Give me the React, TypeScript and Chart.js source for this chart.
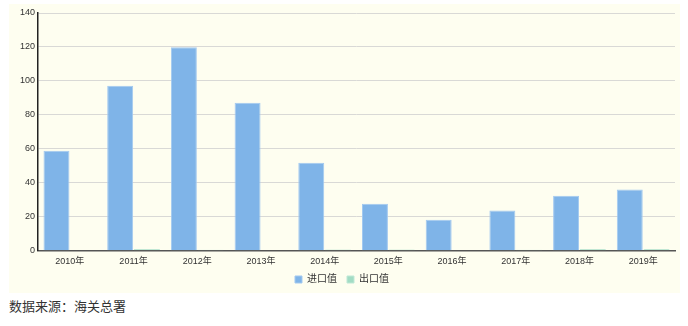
import React, { useEffect, useRef } from "react";
import { Chart, registerables } from "chart.js";

Chart.register(...registerables);

const categories = ["2010年", "2011年", "2012年", "2013年", "2014年", "2015年", "2016年", "2017年", "2018年", "2019年"];
const importValues = [58.8, 97.2, 119.8, 87.2, 51.8, 27.7, 18.2, 23.7, 32.4, 36.0];
const exportValues = [0.3, 1.0, 0.6, 0.2, 0.7, 0.7, 0.3, 0.6, 1.0, 1.0];
const seriesNames = ["进口值", "出口值"];
const yTicks = [0, 20, 40, 60, 80, 100, 120, 140];
const caption = "数据来源：海关总署";

const FONT = "'Liberation Sans', 'Noto Sans CJK SC', sans-serif";

export default function App() {
  const ref = useRef<HTMLCanvasElement | null>(null);

  useEffect(() => {
    if (!ref.current) return;
    const chart = new Chart(ref.current, {
      type: "bar",
      data: {
        labels: categories,
        datasets: [
          {
            label: seriesNames[0],
            data: importValues,
            backgroundColor: "#7fb4e8",
            borderColor: "#a3c9f0",
            borderWidth: 1,
            barPercentage: 0.97,
            categoryPercentage: 0.84,
          },
          {
            label: seriesNames[1],
            data: exportValues,
            backgroundColor: "#a2dcc4",
            borderColor: "#bfe8d6",
            borderWidth: 1,
            barPercentage: 0.97,
            categoryPercentage: 0.84,
          },
        ],
      },
      options: {
        animation: false,
        responsive: false,
        maintainAspectRatio: false,
        layout: { padding: { left: 0, right: 5, top: 9, bottom: -1.5 } },
        plugins: {
          tooltip: { enabled: false },
          legend: {
            position: "bottom",
            labels: {
              boxWidth: 7,
              boxHeight: 7,
              padding: 10,
              color: "#333",
              font: { family: FONT, size: 10 },
            },
          },
        },
        scales: {
          x: {
            grid: { display: false, drawTicks: false },
            border: { display: true, color: "#555", width: 1.5 },
            afterFit: (scale: any) => {
              scale.height -= 7;
            },
            ticks: {
              color: "#333",
              font: { family: FONT, size: 9 },
              padding: 5,
              maxRotation: 0,
            },
          },
          y: {
            min: 0,
            max: 140,
            afterBuildTicks: (scale: any) => {
              scale.ticks = yTicks.map((v) => ({ value: v }));
            },
            afterFit: (scale: any) => {
              scale.width = 29;
            },
            grid: { color: "#d9d9d6", lineWidth: 1, drawTicks: false },
            border: { display: true, color: "#222", width: 1.5 },
            ticks: {
              color: "#333",
              font: { family: FONT, size: 9 },
              padding: 3,
            },
          },
        },
      },
    });
    return () => chart.destroy();
  }, []);

  return (
    <div style={{ position: "absolute", left: 0, top: 0, width: 688, height: 326 }}>
      <div
        style={{
          position: "absolute",
          left: 9,
          top: 4,
          width: 671,
          height: 289,
          background: "#fefef0",
          overflow: "hidden",
        }}
      >
        <canvas ref={ref} width={671} height={289} style={{ display: "block" }} />
      </div>
      <div
        style={{
          position: "absolute",
          left: 9,
          top: 296,
          fontFamily: "'Noto Sans CJK SC', sans-serif",
          fontSize: 13,
          color: "#333",
          lineHeight: "20px",
        }}
      >
        {caption}
      </div>
    </div>
  );
}
